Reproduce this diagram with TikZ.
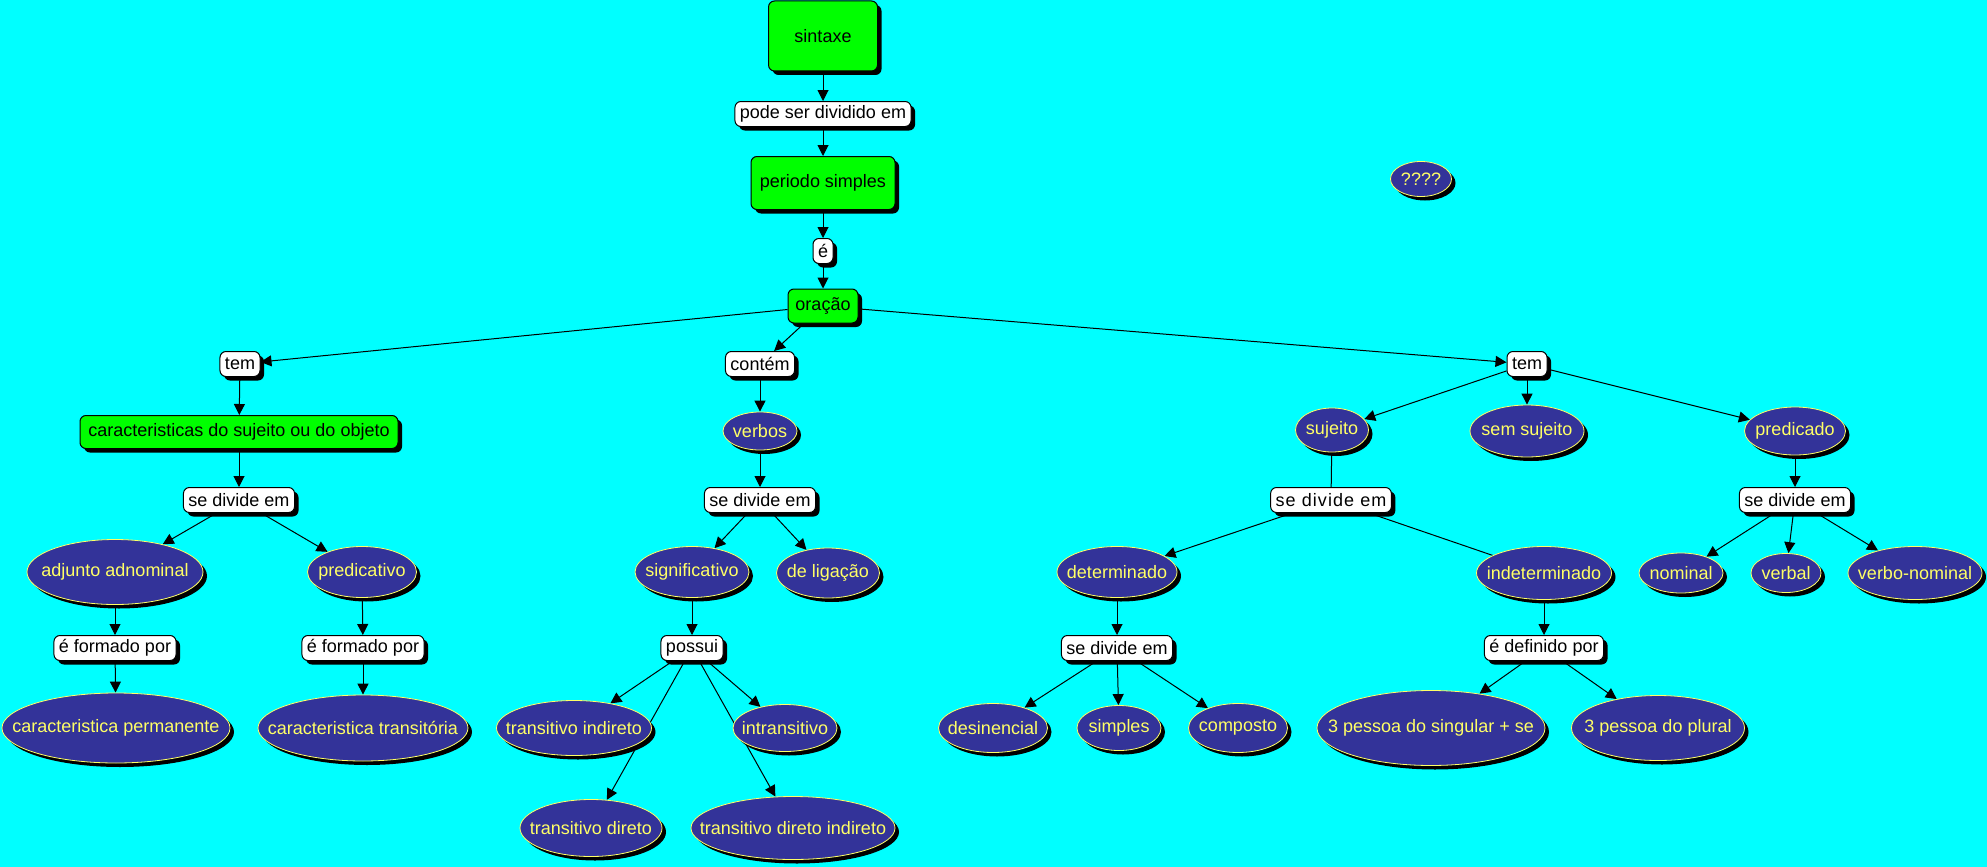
\documentclass[tikz,border=0pt]{standalone}
\usepackage{fontspec}
\setmainfont{Liberation Sans}
\usetikzlibrary{shapes.geometric,shadows,arrows.meta,backgrounds}
\definecolor{bgcyan}{HTML}{00FFFF}
\definecolor{cgreen}{HTML}{00FF00}
\definecolor{bblue}{HTML}{333399}
\definecolor{byellow}{HTML}{FFFF66}
\begin{document}
\begin{tikzpicture}[x=1pt,y=-1pt,
  font=\fontsize{18}{20}\selectfont,
  blackshadow/.style={drop shadow={shadow xshift=4pt,shadow yshift=-4pt,fill=black,opacity=1}},
  concept/.style 2 args={draw,fill=cgreen,rounded corners=6pt,line width=1pt,blackshadow,inner sep=0pt,minimum width=#1pt,minimum height=#2pt},
  linkbox/.style={draw,fill=white,rounded corners=6pt,line width=1pt,blackshadow,inner xsep=5pt,inner ysep=0pt,minimum height=25pt},
  bubble/.style 2 args={ellipse,draw=byellow,fill=bblue,text=byellow,line width=0.8pt,blackshadow,inner sep=0pt,minimum width=#1pt,minimum height=#2pt},
  arr/.style={line width=1pt,-{Triangle[length=11pt,width=11pt]}},
  bare/.style={line width=1pt}]
\useasboundingbox (0,0) rectangle (1987,867);
\node[concept={109}{70}] (sint) at (823,36) {sintaxe};
\node[linkbox] (pode) at (823,114) {pode ser dividido em};
\node[concept={144}{53}] (pers) at (823,183) {periodo simples};
\node[linkbox] (e1) at (823,251) {é};
\node[concept={70}{34}] (orac) at (823,306) {oração};
\node[bubble={61}{35}] (qqq) at (1421,179) {\makebox[0pt]{????}};
\node[linkbox] (temL) at (240,364) {tem};
\node[linkbox] (cont) at (760,364) {contém};
\node[linkbox] (temR) at (1527,364) {tem};
\node[concept={318}{33}] (carac) at (239,432) {caracteristicas do sujeito ou do objeto};
\node[linkbox] (divL) at (239,500) {se divide em};
\node[bubble={176}{65}] (adj) at (115,572) {\makebox[0pt]{adjunto adnominal}};
\node[bubble={109}{51}] (pred1) at (362,572) {\makebox[0pt]{predicativo}};
\node[linkbox] (formA) at (115,648) {é formado por};
\node[linkbox] (formP) at (363,648) {é formado por};
\node[bubble={228}{70}] (perm) at (116,728) {\makebox[0pt]{caracteristica permanente}};
\node[bubble={210}{66}] (trans) at (363,728) {\makebox[0pt]{caracteristica transitória}};
\node[bubble={74}{38}] (verb) at (760,431) {\makebox[0pt]{verbos}};
\node[linkbox] (divV) at (760,500) {se divide em};
\node[bubble={114}{51}] (sig) at (692,572) {\makebox[0pt]{significativo}};
\node[bubble={103}{50}] (lig) at (828,573) {\makebox[0pt]{de ligação}};
\node[linkbox] (poss) at (692,648) {possui};
\node[bubble={155}{55}] (tind) at (574,728) {\makebox[0pt]{transitivo indireto}};
\node[bubble={104}{47}] (intr) at (785,728) {\makebox[0pt]{intransitivo}};
\node[bubble={142}{57}] (tdir) at (591,828) {\makebox[0pt]{transitivo direto}};
\node[bubble={204}{63}] (tdi) at (793,828) {\makebox[0pt]{transitivo direto indireto}};
\node[bubble={73}{44}] (suj) at (1332,430) {\makebox[0pt]{sujeito}};
\node[bubble={114}{52}] (sems) at (1527,431) {\makebox[0pt]{sem sujeito}};
\node[bubble={101}{48}] (predc) at (1795,431) {\makebox[0pt]{predicado}};
\node[linkbox] (divS) at (1331,500) {\addfontfeature{LetterSpace=6}se divide em};
\node[linkbox] (divP) at (1795,500) {se divide em};
\node[bubble={120}{51}] (det) at (1117,572) {\makebox[0pt]{determinado}};
\node[bubble={135}{53}] (indet) at (1544,573) {\makebox[0pt]{indeterminado}};
\node[bubble={84}{40}] (nom) at (1681,573) {\makebox[0pt]{nominal}};
\node[bubble={70}{39}] (verbl) at (1786,573) {\makebox[0pt]{verbal}};
\node[bubble={134}{53}] (vnom) at (1915,573) {\makebox[0pt]{verbo-nominal}};
\node[linkbox] (divD) at (1117,648) {se divide em};
\node[linkbox] (defi) at (1544,648) {é definido por};
\node[bubble={109}{49}] (desi) at (993,728) {\makebox[0pt]{desinencial}};
\node[bubble={84}{45}] (simp) at (1119,728) {\makebox[0pt]{simples}};
\node[bubble={99}{49}] (comp) at (1238,728) {\makebox[0pt]{composto}};
\node[bubble={228}{75}] (sing) at (1431,728) {\makebox[0pt]{3 pessoa do singular + se}};
\node[bubble={173}{65}] (plur) at (1658,728) {\makebox[0pt]{3 pessoa do plural}};
\begin{scope}[on background layer]
\fill[bgcyan] (0,0) rectangle (1987,867);
\draw[arr] (sint) -- (pode);
\draw[arr] (pode) -- (pers);
\draw[arr] (pers) -- (e1);
\draw[arr] (e1) -- (orac);
\draw[arr] (orac) -- (temL);
\draw[arr] (orac) -- (cont);
\draw[arr] (orac) -- (temR);
\draw[arr] (temL) -- (carac);
\draw[arr] (carac) -- (divL);
\draw[arr] (divL) -- (adj);
\draw[arr] (divL) -- (pred1);
\draw[arr] (adj) -- (formA);
\draw[arr] (formA) -- (perm);
\draw[arr] (pred1) -- (formP);
\draw[arr] (formP) -- (trans);
\draw[arr] (cont) -- (verb);
\draw[arr] (verb) -- (divV);
\draw[arr] (divV) -- (sig);
\draw[arr] (divV) -- (lig);
\draw[arr] (sig) -- (poss);
\draw[arr] (poss) -- (tind);
\draw[arr] (poss) -- (tdir);
\draw[arr] (poss) -- (intr);
\draw[arr] (poss) -- (tdi);
\draw[arr] (temR) -- (suj);
\draw[arr] (temR) -- (sems);
\draw[arr] (temR) -- (predc);
\draw[bare] (suj) -- (divS);
\draw[arr] (divS) -- (det);
\draw[bare] (divS) -- (indet);
\draw[arr] (det) -- (divD);
\draw[arr] (divD) -- (desi);
\draw[arr] (divD) -- (simp);
\draw[arr] (divD) -- (comp);
\draw[arr] (indet) -- (defi);
\draw[arr] (defi) -- (sing);
\draw[arr] (defi) -- (plur);
\draw[arr] (predc) -- (divP);
\draw[arr] (divP) -- (nom);
\draw[arr] (divP) -- (verbl);
\draw[arr] (divP) -- (vnom);
\end{scope}
\end{tikzpicture}
\end{document}
